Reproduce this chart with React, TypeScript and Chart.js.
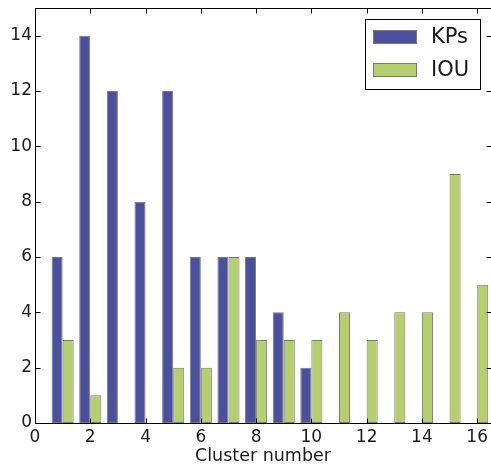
import React, { useEffect, useRef } from 'react';
import { Chart, registerables } from 'chart.js';

Chart.register(...registerables);

// ---- data ----
const clusters = [1, 2, 3, 4, 5, 6, 7, 8, 9, 10, 11, 12, 13, 14, 15, 16];
const kpsValues = [6, 14, 12, 8, 12, 6, 6, 6, 4, 2, 0, 0, 0, 0, 0, 0];
const iouValues = [3, 1, 0, 0, 2, 2, 6, 3, 3, 3, 4, 3, 4, 4, 9, 5];
const seriesNames = ['KPs', 'IOU'];
const xTickValues = [0, 2, 4, 6, 8, 10, 12, 14, 16];
const yTickValues = [0, 2, 4, 6, 8, 10, 12, 14];
const xAxisTitle = 'Cluster number';

const FONT = 'DejaVu Sans';
const BLUE = '#4a4f9e';
const GREEN = '#b5ce6e';
const EDGE = '#7a7a7a';

const framePlugin = {
  id: 'frameTicks',
  afterDatasetsDraw(chart: any) {
    const { ctx, chartArea: a, scales } = chart;
    const L = Math.round(a.left) + 0.5;
    const R = Math.round(a.right) + 0.5;
    const T = Math.round(a.top) + 0.5;
    const B = Math.round(a.bottom) + 0.5;
    const len = 5;
    ctx.save();
    ctx.strokeStyle = '#000';
    ctx.lineWidth = 1;
    ctx.beginPath();
    ctx.rect(L, T, R - L, B - T);
    for (const v of xTickValues) {
      const px = Math.round(scales.x.getPixelForValue(v)) + 0.5;
      ctx.moveTo(px, B);
      ctx.lineTo(px, B - len);
      ctx.moveTo(px, T);
      ctx.lineTo(px, T + len);
    }
    for (const v of yTickValues) {
      const py = Math.round(scales.y.getPixelForValue(v)) + 0.5;
      ctx.moveTo(L, py);
      ctx.lineTo(L + len, py);
      ctx.moveTo(R, py);
      ctx.lineTo(R - len, py);
    }
    ctx.stroke();
    ctx.restore();
  },
  afterDraw(chart: any) {
    const { ctx } = chart;
    const ds = chart.data.datasets;
    const boxX = 365.5, boxY = 19.5, boxW = 115, boxH = 70;
    ctx.save();
    ctx.fillStyle = '#fff';
    ctx.fillRect(boxX, boxY, boxW, boxH);
    ctx.strokeStyle = '#000';
    ctx.lineWidth = 1;
    ctx.strokeRect(boxX, boxY, boxW, boxH);
    ctx.font = `21px "${FONT}"`;
    ctx.textBaseline = 'middle';
    ctx.textAlign = 'left';
    ds.forEach((d: any, i: number) => {
      const cy = 37 + i * 33;
      ctx.fillStyle = d.backgroundColor;
      ctx.fillRect(373, cy - 7, 44, 14);
      ctx.strokeStyle = d.borderColor;
      ctx.strokeRect(373.5, cy - 6.5, 43, 13);
      ctx.fillStyle = '#1a1a1a';
      ctx.fillText(d.label, 431, cy + 1);
    });
    ctx.restore();
  },
};

export default function App() {
  const ref = useRef<HTMLCanvasElement | null>(null);

  useEffect(() => {
    if (!ref.current) return;
    const chart = new Chart(ref.current, {
      type: 'bar',
      data: {
        datasets: [
          {
            label: seriesNames[0],
            data: clusters.map((c, i) => ({ x: c, y: kpsValues[i] })),
            backgroundColor: BLUE,
            borderColor: EDGE,
            borderWidth: 1,
            borderSkipped: false,
            categoryPercentage: 0.8,
            barPercentage: 1,
          },
          {
            label: seriesNames[1],
            data: clusters.map((c, i) => ({ x: c, y: iouValues[i] })),
            backgroundColor: GREEN,
            borderColor: EDGE,
            borderWidth: 1,
            borderSkipped: false,
            categoryPercentage: 0.8,
            barPercentage: 1,
          },
        ],
      },
      options: {
        responsive: false,
        animation: false,
        layout: { padding: { top: 8, left: 0, right: 0, bottom: 0 } },
        plugins: {
          legend: { display: false },
          tooltip: { enabled: false },
        },
        scales: {
          x: {
            type: 'linear',
            min: 0,
            max: 16.5,
            offset: false,
            grid: { display: false, drawTicks: false, offset: false },
            border: { display: false },
            afterBuildTicks: (s: any) => {
              s.ticks = xTickValues.map((v) => ({ value: v }));
            },
            afterFit: (s: any) => {
              s.height = 44;
              s.paddingLeft = 0;
              s.paddingRight = 0;
            },
            ticks: {
              padding: 4,
              maxRotation: 0,
              autoSkip: false,
              color: '#1a1a1a',
              font: { family: FONT, size: 17 },
              callback: (v: any) => String(v),
            },
            title: {
              display: true,
              text: xAxisTitle,
              color: '#1a1a1a',
              font: { family: FONT, size: 17.5 },
              padding: { top: 0, bottom: 0 },
            },
          },
          y: {
            type: 'linear',
            min: 0,
            max: 15,
            grid: { display: false, drawTicks: false },
            border: { display: false },
            afterBuildTicks: (s: any) => {
              s.ticks = yTickValues.map((v) => ({ value: v }));
            },
            afterFit: (s: any) => {
              s.width = 35;
              s.paddingTop = 0;
              s.paddingBottom = 0;
            },
            ticks: {
              padding: 3,
              color: '#1a1a1a',
              font: { family: FONT, size: 17 },
              callback: (v: any) => String(v),
            },
          },
        },
      },
      plugins: [framePlugin],
    } as any);
    return () => chart.destroy();
  }, []);

  return (
    <div style={{ position: 'fixed', left: 0, top: 0, width: 491, height: 467, background: '#fff' }}>
      <canvas ref={ref} width={491} height={467} style={{ display: 'block' }} />
    </div>
  );
}
